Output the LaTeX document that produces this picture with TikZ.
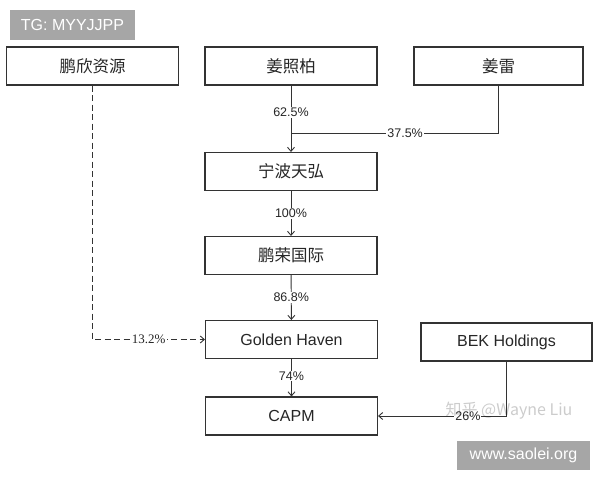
\documentclass[tikz,border=0pt]{standalone}
\usepackage{fontspec}
\setmainfont{Liberation Sans}
\newfontfamily\cjk{Noto Sans CJK SC}
\newfontfamily\serifnum{Liberation Serif}
\usetikzlibrary{arrows.meta}
\definecolor{linec}{HTML}{333333}
\definecolor{tagbg}{HTML}{A6A6A6}
\tikzset{
  ent/.style={draw=linec, line width=1.1pt, minimum width=172pt, minimum height=38pt, inner sep=0pt, font=\fontsize{16}{18}\selectfont, text=black!85},
  cn/.style={ent, font=\cjk\fontsize{16.5}{18}\selectfont},
  link/.style={draw=linec, line width=0.9pt},
  arr/.style={link, -{Straight Barb[length=4pt,width=7pt]}},
  pct/.style={fill=white, inner sep=1pt, font=\fontsize{12.5}{14}\selectfont, text=black!85},
  tag/.style={fill=tagbg, text=white, inner sep=0pt, font=\fontsize{16}{18}\selectfont}
}
\begin{document}
\begin{tikzpicture}[x=1pt,y=-1pt]
\useasboundingbox (0,0) rectangle (600,480);
\fill[white] (0,0) rectangle (600,480);
% boxes
\node[cn] (px) at (92.5,66) {鹏欣资源};
\node[cn] (jzb) at (291,66) {姜照柏};
\node[cn, minimum width=169pt] (jl) at (498.5,66) {姜雷};
\node[cn] (nb) at (291,171.5) {宁波天弘};
\node[cn] (pr) at (291,255.5) {鹏荣国际};
\node[ent] (gh) at (291.5,339.5) {Golden Haven};
\node[ent] (capm) at (291.5,416) {CAPM};
\node[ent, minimum width=171pt] (bek) at (506.5,342) {BEK Holdings};
% join point
\coordinate (j) at (291,133);
% connectors
\draw[arr] (jzb) -- node[pct, pos=0.4] (l1) {62.5\%} (nb);
\draw[link] (jl.south) |- node[pct, pos=0.725] (l2) {37.5\%} (j);
\draw[arr] (nb) -- node[pct] (l3) {100\%} (pr);
\draw[arr] (pr) -- node[pct] (l4) {86.8\%} (gh);
\draw[arr] (gh) -- node[pct, pos=0.45] (l5) {74\%} (capm);
\draw[arr] (bek.south) |- node[pct, pos=0.65] (l6) {26\%} (capm.east);
\draw[arr, dashed, dash pattern=on 6pt off 3.5pt] (px.south) |- node[pct, pos=0.75, font=\serifnum\fontsize{13}{15}\selectfont] (l7) {13.2\%} (gh.west);
% watermark
\node[font=\cjk\fontsize{16}{18}\selectfont, text=black, opacity=0.2] (wm) at (509,411) {知乎 @Wayne Liu};
% tags
\node[tag, minimum width=125pt, minimum height=30pt] (tg) at (72.5,25) {TG: MYYJJPP};
\node[tag, minimum width=133pt, minimum height=29pt] (site) at (523.5,455) {www.saolei.org};
\end{tikzpicture}
\end{document}
